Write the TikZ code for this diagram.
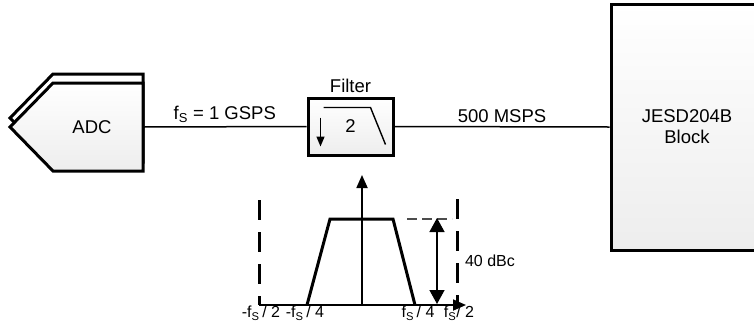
\documentclass[tikz,border=0pt]{standalone}
\usepackage{fontspec}
\setmainfont{Liberation Sans}
\usepackage{tikz}
\usetikzlibrary{arrows.meta, positioning, calc}
\tikzset{
	blockbox/.style={rectangle, draw=black, line width=3pt, top color=white, bottom color=gray!14, align=center},
	wire/.style={line width=1.5pt},
	axisline/.style={line width=1.8pt, -{Triangle[length=13pt, width=11pt]}},
	bandline/.style={line width=3pt, line join=miter},
	edgeline/.style={line width=3pt, dash pattern=on 20pt off 12pt},
	levelline/.style={line width=1.5pt, dash pattern=on 10pt off 5pt, draw=black!70},
	spanarrow/.style={line width=1.4pt, {Triangle[length=14pt, width=15pt]}-{Triangle[length=14pt, width=15pt]}},
	freqlabel/.style={inner sep=1pt, font=\fontsize{16}{19}\selectfont},
}

\begin{document}
\begin{tikzpicture}[x=1pt, y=-1pt, font=\fontsize{18.5}{21}\selectfont]
	\useasboundingbox (0,0) rectangle (754,330);
	% ADC with its shadow
	\filldraw[line width=3pt, fill=white] (53,74) -- (143,74) -- (143,162) -- (53,162) -- (10,118) -- cycle;
	\draw[line width=3pt, top color=white, bottom color=gray!14] (53,83) -- (143,83) -- (143,171) -- (53,171) -- (10,127) -- cycle;
	\node (adc) at (92,127) {ADC};
	\coordinate (adcout) at (143,127);
	% decimation filter
	\node[blockbox, minimum width=85pt, minimum height=57pt] (filt) at (350.5,126.5) {};
	\node[above=0pt of filt] (filtlabel) {Filter};
	\draw[line width=1.4pt, -{Triangle[length=10pt, width=8pt]}] ($(filt.center)+(-30,-9)$) -- ($(filt.center)+(-30,20)$);
	\node (ratio) at ($(filt.center)+(0,0)$) {2};
	\draw[line width=1.4pt] ($(filt.center)+(-27,-19)$) -- ($(filt.center)+(20,-19)$) -- ($(filt.center)+(35,18)$);
	% JESD block
	\node[blockbox, minimum width=152pt, minimum height=246pt] (jesd) at (687,127) {JESD204B\\Block};
	\draw[wire] (adcout) -- node[above] {f\textsubscript{S} = 1 GSPS} (filt.west);
	\draw[wire] (filt.east) -- node[above] {500 MSPS} (jesd.west);
	% spectrum
	\coordinate (orig) at (362,305);
	\coordinate (left) at (259,305);
	\draw[edgeline] (259,200) -- (left);
	\draw[edgeline] (457,199) -- (457,303);
	\draw[axisline] (left) -- (466,305);
	\draw[axisline] (orig) -- (362,175);
	\draw[bandline] (307,305) -- (330,219) -- (393,219) -- (415,305);
	\draw[levelline] (407,219) -- (452,219);
	\draw[spanarrow] (437,218) -- (437,304);
	\node[font=\fontsize{16}{19}\selectfont] (atten) at (490,261) {40 dBc};
	\node[freqlabel] (fa) at (261,313) {-f\textsubscript{S}\,/ 2};
	\node[freqlabel] (fb) at (305,313) {-f\textsubscript{S}\,/ 4};
	\node[freqlabel] (fc) at (418,313) {f\textsubscript{S}\,/ 4};
	\node[freqlabel] (fd) at (459,313) {f\textsubscript{S}/ 2};
\end{tikzpicture}
\end{document}
